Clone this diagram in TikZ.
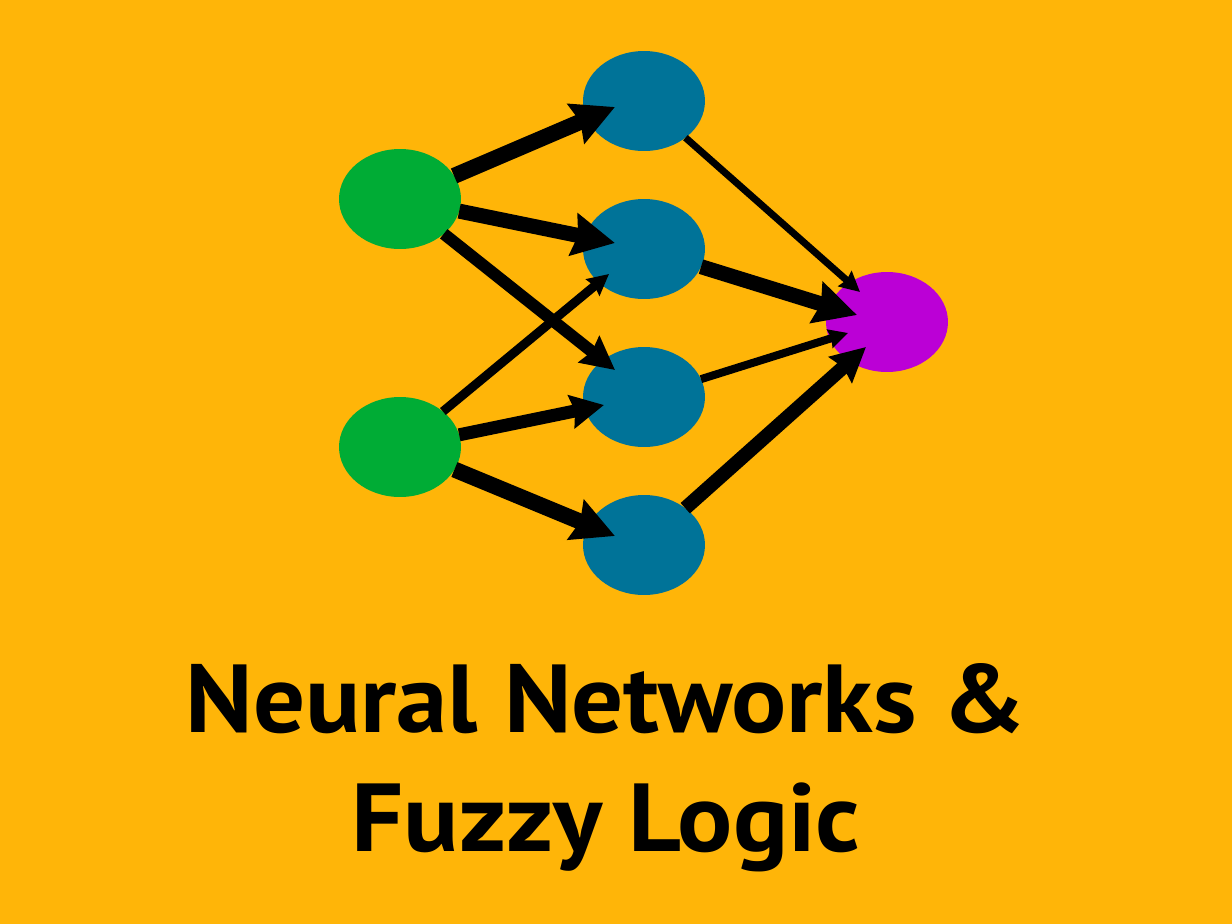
\documentclass[tikz,border=0pt]{standalone}
\usepackage{fontspec}
\setmainfont[FakeStretch=1.065]{PT Sans}
\usepackage{xcolor}
\usetikzlibrary{shapes.geometric}
\usetikzlibrary{arrows.meta,calc}
\definecolor{backcol}{HTML}{FFB508}
\definecolor{inputcol}{HTML}{00AC35}
\definecolor{hiddencol}{HTML}{007398}
\definecolor{outputcol}{HTML}{BB00D6}
\tikzstyle{neuron}=[ellipse, minimum width=2.44cm, minimum height=2cm, inner sep=0pt, outer sep=0pt]
\tikzstyle{wire}=[line width=#1*0.02cm]

\begin{document}
\begin{tikzpicture}[x=0.02cm,y=-0.02cm]
\fill[backcol] (0,0) rectangle (1232,924);
\useasboundingbox (0,0) rectangle (1232,924);
\foreach \n/\y in {1/199,2/447} {
	\node[neuron, fill=inputcol] (g\n) at (400,\y) {};
}
\foreach \n/\y in {1/101,2/249,3/397,4/545} {
	\node[neuron, fill=hiddencol] (b\n) at (644,\y) {};
}
\node[neuron, fill=outputcol] (p) at (887,322) {};
% from / to / tip offset / width / head
\foreach \s/\t/\dx/\dy/\w/\h in {g1/b1/-29/6/16/42, g1/b2/-29/-6/15/42, g1/b3/-29/-27/12/33, g2/b2/-35/25/9/21, g2/b3/-40/8/13/33, g2/b4/-29/-9/16/42, b1/p/-27/-30/7/20, b2/p/-30/-7/15/42, b3/p/-39/11/8/19, b4/p/-21/25/14/34} {
	\draw[wire=\w, -{Stealth[length=\h*0.569pt, width=\h*0.569pt, inset=\h*0.06pt]}] (\s) -- ($(\t)+(\dx,\dy)$);
}
\node[align=center, font=\bfseries\fontsize{55}{67.7}\selectfont] (title) at (606,768) {Neural Networks \&\\Fuzzy Logic};
\end{tikzpicture}
\end{document}
